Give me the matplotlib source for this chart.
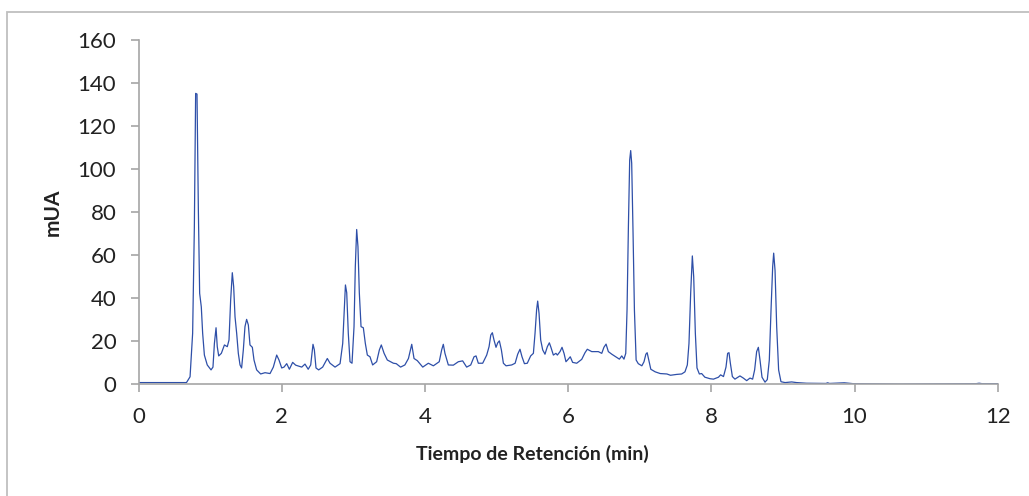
import matplotlib.pyplot as plt
from matplotlib.patches import Rectangle

# ==============================
# DATOS DEL CROMATOGRAMA
# ==============================

tiempo = [
    0.0, 0.67, 0.72, 0.756, 0.78, 0.798, 0.817, 0.836, 0.854, 0.877,
    0.896, 0.92, 0.96, 1.013, 1.04, 1.06, 1.083, 1.1, 1.12, 1.157,
    1.2, 1.24, 1.264, 1.287, 1.31, 1.329, 1.348, 1.371, 1.394, 1.418,
    1.44, 1.464, 1.487, 1.51, 1.534, 1.557, 1.59, 1.613, 1.65, 1.706,
    1.767, 1.837, 1.883, 1.93, 1.962, 2.0, 2.032, 2.07, 2.107, 2.153,
    2.195, 2.28, 2.325, 2.37, 2.405, 2.437, 2.456, 2.479, 2.516, 2.572,
    2.637, 2.675, 2.745, 2.815, 2.852, 2.89, 2.908, 2.93, 2.954, 2.982,
    3.01, 3.028, 3.047, 3.065, 3.084, 3.108, 3.14, 3.168, 3.196, 3.233,
    3.27, 3.326, 3.364, 3.391, 3.43, 3.475, 3.56, 3.6, 3.66, 3.72,
    3.77, 3.816, 3.848, 3.894, 3.97, 4.048, 4.118, 4.2, 4.234, 4.257,
    4.28, 4.327, 4.397, 4.467, 4.527, 4.583, 4.64, 4.686, 4.714, 4.746,
    4.807, 4.863, 4.896, 4.92, 4.942, 4.965, 4.993, 5.017, 5.04, 5.068,
    5.096, 5.133, 5.212, 5.26, 5.296, 5.328, 5.356, 5.39, 5.43, 5.477,
    5.515, 5.538, 5.56, 5.575, 5.594, 5.617, 5.645, 5.677, 5.71, 5.738,
    5.76, 5.794, 5.83, 5.85, 5.887, 5.915, 5.943, 5.97, 6.0, 6.03,
    6.063, 6.12, 6.19, 6.236, 6.268, 6.33, 6.422, 6.47, 6.5, 6.53,
    6.562, 6.61, 6.68, 6.716, 6.749, 6.78, 6.805, 6.823, 6.842, 6.86,
    6.874, 6.888, 6.907, 6.926, 6.95, 6.98, 7.03, 7.06, 7.086, 7.104,
    7.127, 7.155, 7.216, 7.286, 7.38, 7.43, 7.516, 7.586, 7.632, 7.665,
    7.688, 7.712, 7.735, 7.754, 7.777, 7.8, 7.833, 7.865, 7.91, 7.982,
    8.03, 8.1, 8.13, 8.17, 8.205, 8.228, 8.247, 8.266, 8.294, 8.33,
    8.4, 8.447, 8.494, 8.54, 8.577, 8.605, 8.633, 8.657, 8.68, 8.708,
    8.75, 8.782, 8.81, 8.834, 8.857, 8.871, 8.89, 8.913, 8.94, 8.973,
    9.03, 9.122, 9.19, 9.33, 9.6, 9.625, 9.65, 9.857, 9.98, 10.63,
    11.7, 11.74, 11.78, 12.0,
]

absorbancia = [
    0.8, 0.8, 3.5, 23.7, 73.0, 135.3, 135.0, 81.0, 42.3, 36.0,
    23.7, 13.6, 9.0, 6.7, 8.0, 19.0, 26.3, 17.5, 13.2, 14.4,
    18.3, 17.5, 20.6, 39.2, 51.9, 45.4, 31.4, 23.7, 14.4, 9.0,
    7.6, 16.0, 26.8, 30.2, 27.6, 18.3, 17.2, 11.3, 6.7, 4.8,
    5.4, 5.0, 8.0, 13.6, 11.3, 7.6, 8.0, 9.6, 7.0, 10.2,
    8.9, 8.0, 9.4, 7.0, 9.0, 18.6, 16.0, 7.6, 6.7, 8.0,
    12.0, 9.8, 8.0, 9.6, 19.0, 46.2, 42.6, 23.7, 10.5, 9.8,
    26.8, 54.7, 72.0, 64.0, 42.6, 26.8, 26.3, 19.0, 13.6, 12.8,
    9.0, 10.5, 16.0, 18.3, 14.4, 11.3, 9.8, 9.6, 8.0, 9.0,
    12.0, 18.6, 12.0, 11.0, 8.0, 9.8, 8.6, 10.5, 16.0, 18.6,
    14.4, 9.0, 8.9, 10.5, 10.9, 8.0, 9.0, 12.8, 13.2, 9.8,
    9.8, 13.6, 17.5, 22.9, 24.0, 20.6, 17.2, 19.3, 20.2, 16.0,
    9.8, 8.6, 9.0, 9.8, 14.0, 16.3, 12.8, 9.6, 9.8, 13.2,
    14.4, 23.7, 34.6, 38.7, 33.0, 20.6, 16.0, 14.0, 17.5, 19.3,
    17.2, 13.6, 14.4, 13.6, 15.2, 17.2, 14.4, 10.5, 11.6, 12.8,
    10.2, 9.8, 11.6, 14.7, 16.3, 15.2, 15.2, 14.4, 17.2, 18.7,
    15.2, 14.0, 12.5, 11.7, 13.2, 11.7, 14.4, 34.6, 73.3, 104.3,
    108.7, 102.8, 70.2, 34.6, 11.3, 9.6, 8.6, 10.5, 14.0, 14.7,
    11.3, 7.0, 5.8, 5.0, 4.8, 4.2, 4.6, 4.8, 5.8, 9.0,
    19.0, 42.6, 59.7, 50.0, 23.7, 7.6, 4.8, 5.0, 3.3, 2.6,
    2.4, 3.3, 4.4, 3.6, 8.0, 14.4, 14.7, 9.8, 3.6, 2.4,
    3.9, 2.9, 1.7, 2.9, 2.4, 6.7, 15.2, 17.2, 11.3, 3.3,
    1.0, 2.2, 11.3, 34.6, 54.7, 61.0, 53.0, 26.8, 6.7, 1.2,
    0.8, 1.1, 0.8, 0.5, 0.4, 0.7, 0.4, 0.7, 0.3, 0.1,
    0.3, 0.5, 0.3, 0.3,
]

ticks_x = [0, 2, 4, 6, 8, 10, 12]
ticks_y = [0, 20, 40, 60, 80, 100, 120, 140, 160]

# ==============================
# GRAFICA
# ==============================

plt.rcParams['font.family'] = ['Lato', 'DejaVu Sans']
gris = '#A6A6A6'

fig = plt.figure(figsize=(10.29, 4.96), dpi=100)
ax = fig.add_axes([0.1346, 0.2252, 0.835, 0.6936])

ax.plot(tiempo, absorbancia, color='#2E4FA8', linewidth=0.9)

ax.set_xlim(0, 12)
ax.set_ylim(0, 160)
ax.set_xticks(ticks_x)
ax.set_yticks(ticks_y)

for lado in ['top', 'right']:
    ax.spines[lado].set_visible(False)
for lado in ['left', 'bottom']:
    ax.spines[lado].set_color(gris)
    ax.spines[lado].set_linewidth(1.2)

ax.tick_params(axis='both', direction='out', length=6, width=1.2,
               color=gris, labelsize=16, labelcolor='#222222', pad=10)

ax.set_xlabel("Tiempo de Retención (min)", fontsize=14, fontweight='bold',
              color='#222222')
ax.set_ylabel("mUA", fontsize=15, fontweight='bold', color='#222222')
ax.xaxis.set_label_coords(0.458, -0.175)
ax.yaxis.set_label_coords(-0.088, 0.5)

# borde del area del grafico
fig.patches.append(Rectangle((7 / 1029, -0.1), 1.2, 1 - 12 / 496 + 0.1,
                             transform=fig.transFigure, fill=False,
                             edgecolor='#BFBFBF', linewidth=1.3))

fig.savefig("out.png", dpi=100)
plt.close()
